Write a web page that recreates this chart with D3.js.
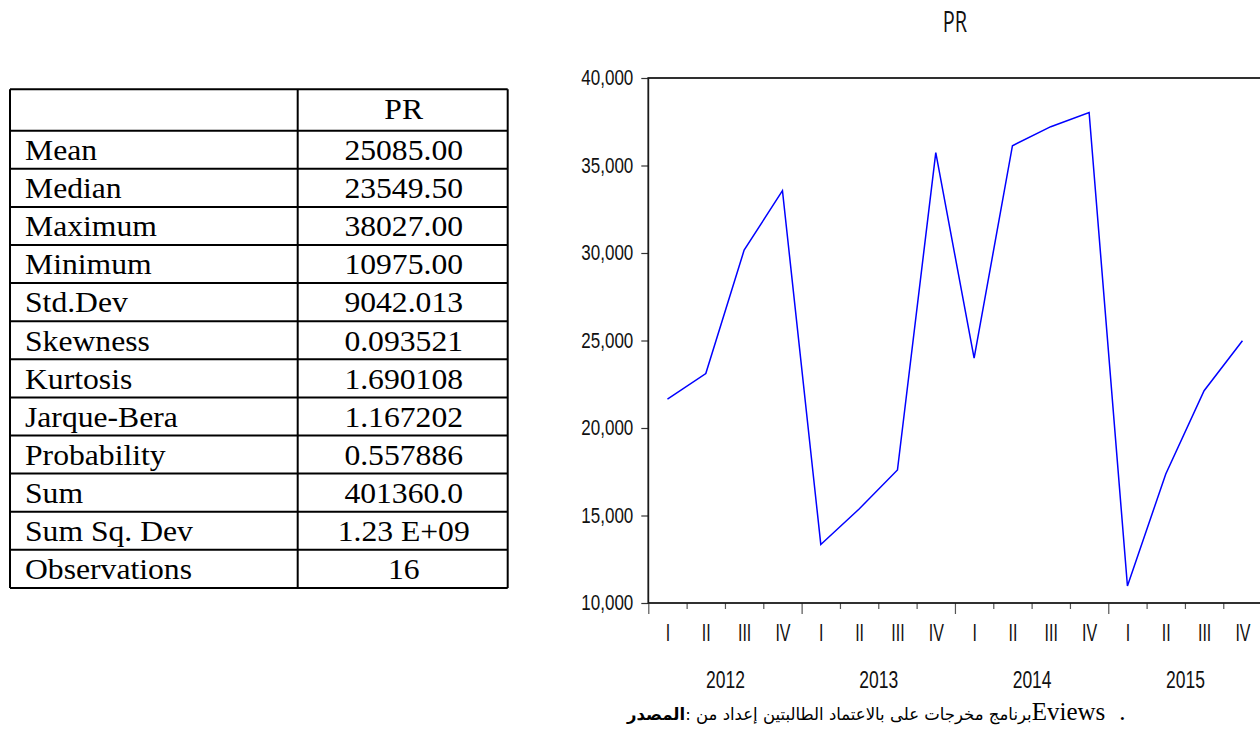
<!DOCTYPE html>
<html><head><meta charset="utf-8">
<script src="https://cdn.jsdelivr.net/npm/d3@7"></script>
<style>body{margin:0;background:#fff} svg{display:block}</style>
</head><body>
<svg id="c" width="1260" height="729"></svg>
<script>
// ---------- data ----------
const statLabels = ["Mean","Median","Maximum","Minimum","Std.Dev","Skewness","Kurtosis","Jarque-Bera","Probability","Sum","Sum Sq. Dev","Observations"];
const statValues = ["25085.00","23549.50","38027.00","10975.00","9042.013","0.093521","1.690108","1.167202","0.557886","401360.0","1.23 E+09","16"];
const seriesName = "PR";
const quarterLabels = ["I","II","III","IV","I","II","III","IV","I","II","III","IV","I","II","III","IV"];
const yearLabels = ["2012","2013","2014","2015"];
const prValues = [21650,23110,30163,33566,13347,15371,17600,35731,23989,36131,37217,38027,10975,17371,22130,24982];
const yTickValues = [10000,15000,20000,25000,30000,35000,40000];
const sourceBold = "المصدر";
const sourceWords = ["من","إعداد","الطالبتين","بالاعتماد","على","مخرجات","برنامج"];
const sourceLatin = "Eviews";

const svg = d3.select("#c");

// ---------- table ----------
const tX0 = 10, tX1 = 297.7, tX2 = 507.7, tTop = 89.3, hdrH = 41.4, rowH = 38.1;
const nRows = statLabels.length;
const tBottom = tTop + hdrH + nRows * rowH;
const tbl = svg.append("g");
const rowTop = i => tTop + hdrH + i * rowH;
tbl.selectAll("line.h").data(d3.range(nRows + 2)).join("line")
  .attr("x1", tX0).attr("x2", tX2)
  .attr("y1", i => i === 0 ? tTop : rowTop(i - 1))
  .attr("y2", i => i === 0 ? tTop : rowTop(i - 1))
  .attr("stroke", "#000").attr("stroke-width", 2);
[tX0, tX1, tX2].forEach(xv => tbl.append("line")
  .attr("x1", xv).attr("x2", xv).attr("y1", tTop).attr("y2", tBottom)
  .attr("stroke", "#000").attr("stroke-width", 2));
const serif = "'Liberation Serif','Times New Roman',serif";
const sx = 1.055;
const vCx = (tX1 + tX2) / 2 + 1;
tbl.append("text").attr("transform", `translate(${vCx},${tTop + 30}) scale(${sx},1)`)
  .attr("text-anchor", "middle").attr("font-family", serif).attr("font-size", 30).text(seriesName);
tbl.selectAll("text.lab").data(statLabels).join("text").attr("class", "lab")
  .attr("transform", (d, i) => `translate(25,${rowTop(i) + 29.3}) scale(${sx},1)`)
  .attr("font-family", serif).attr("font-size", 30).text(d => d);
tbl.selectAll("text.val").data(statValues).join("text").attr("class", "val")
  .attr("transform", (d, i) => `translate(${vCx},${rowTop(i) + 29.3}) scale(${sx},1)`)
  .attr("text-anchor", "middle").attr("font-family", serif).attr("font-size", 30).text(d => d);

// ---------- chart ----------
const sans = "'Liberation Sans',Arial,sans-serif";
const x = d3.scaleLinear().domain([0, prValues.length]).range([648.3, 1261.6]);
const y = d3.scaleLinear().domain([10000, 40000]).range([603, 78]);

svg.append("text").attr("transform", "translate(955,32) scale(1,1.45)")
  .attr("text-anchor", "middle").attr("font-family", "'Open Sans',sans-serif").attr("font-size", 20)
  .attr("fill", "#111").text(seriesName);

const gy = svg.append("g").attr("transform", `translate(${x(0)},0)`)
  .call(d3.axisLeft(y).tickValues(yTickValues).tickSize(7).tickPadding(8).tickFormat(d3.format(",")));
gy.select(".domain").remove();
gy.selectAll(".tick line").attr("stroke", "#333").attr("stroke-width", 1.2);
gy.selectAll(".tick text").attr("font-family", sans).attr("font-size", 17).attr("fill", "#111")
  .attr("transform", "scale(1,1.25)");

const gx = svg.append("g").attr("transform", `translate(0,${y(10000)})`)
  .call(d3.axisBottom(x).tickValues(d3.range(0, prValues.length + 1)).tickSize(6).tickFormat(""));
gx.select(".domain").remove();
gx.selectAll(".tick line").attr("stroke", "#555").attr("stroke-width", 1.2)
  .attr("y2", d => d % 4 === 0 ? 11 : 6);

const gq = svg.append("g").attr("transform", `translate(0,${y(10000)})`)
  .call(d3.axisBottom(x).tickValues(d3.range(prValues.length).map(i => i + 0.5)).tickSize(0)
    .tickFormat(d => quarterLabels[Math.floor(d)]));
gq.select(".domain").remove();
gq.selectAll(".tick text").attr("y", 0).attr("dy", 0)
  .attr("transform", "translate(0,38) scale(1,1.48)")
  .attr("font-family", sans).attr("font-size", 16).attr("fill", "#111");

const gyr = svg.append("g").attr("transform", `translate(0,${y(10000)})`)
  .call(d3.axisBottom(x).tickValues(yearLabels.map((d, j) => 4 * j + 2)).tickSize(0)
    .tickFormat(d => yearLabels[(d - 2) / 4]));
gyr.select(".domain").remove();
gyr.selectAll(".tick text").attr("y", 0).attr("dy", 0)
  .attr("transform", "translate(0,84.7) scale(1,1.4)")
  .attr("font-family", sans).attr("font-size", 17.5).attr("fill", "#111");

svg.append("rect").attr("x", x(0)).attr("y", y(40000))
  .attr("width", x(prValues.length) - x(0)).attr("height", y(10000) - y(40000))
  .attr("fill", "none").attr("stroke", "#1a1a1a").attr("stroke-width", 1.8);

svg.append("path").datum(prValues)
  .attr("d", d3.line().x((d, i) => x(i + 0.5)).y(d => y(d)))
  .attr("fill", "none").attr("stroke", "#0000ff").attr("stroke-width", 1.5);

// ---------- source line ----------
const LRM = "\u200E";
const src = svg.append("text").attr("x", 627).attr("y", 720)
  .attr("font-family", "'DejaVu Sans',sans-serif").attr("font-size", 16.5)
  .style("direction", "ltr").attr("text-anchor", "start").attr("fill", "#000");
src.append("tspan").attr("font-weight", "bold").text(sourceBold);
src.append("tspan").text(LRM + ": " + LRM + sourceWords.join(LRM + " " + LRM) + LRM);
src.append("tspan").attr("font-family", serif).attr("font-size", 25).text(sourceLatin);
src.append("tspan").attr("font-family", serif).attr("font-size", 25).attr("dx", 14).text(".");
</script>
</body></html>
